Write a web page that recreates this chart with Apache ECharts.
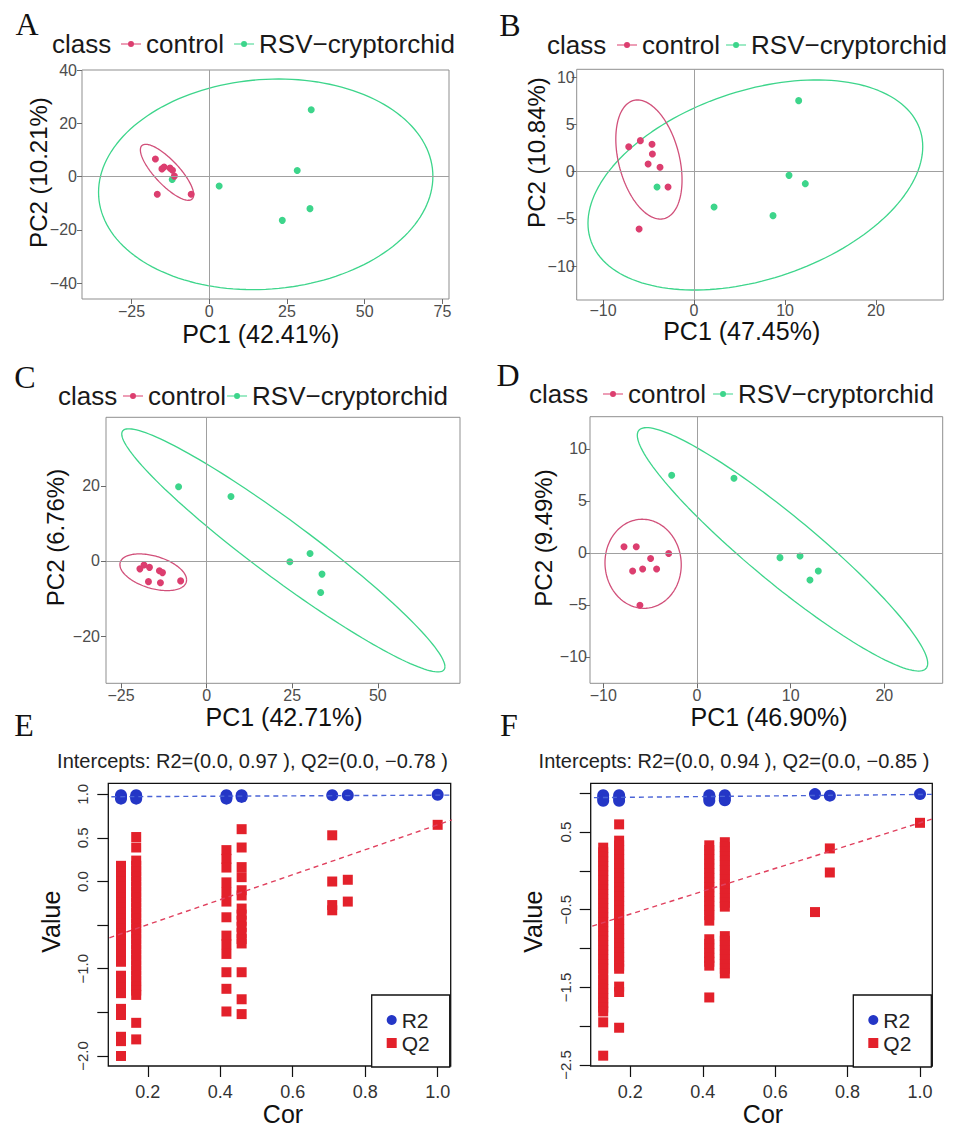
<!DOCTYPE html>
<html><head><meta charset="utf-8">
<script src="https://cdn.jsdelivr.net/npm/echarts@6/dist/echarts.min.js"></script>
<style>html,body{margin:0;padding:0;background:#fff}#c{width:955px;height:1129px}</style>
</head><body><div id="c"></div>
<script>
// ---------------- DATA ----------------
const groupNames = ['control', 'RSV\u2212cryptorchid'];

// PCA panels: [PC1, PC2]
const A_control = [[-17.3,6.6],[-15.2,2.9],[-14.5,3.6],[-12.6,3.2],[-11.8,2.4],[-11.2,0.2],[-16.7,-6.6],[-5.8,-6.6]];
const A_rsv     = [[-11.9,-1.1],[3.2,-3.5],[28.3,2.3],[32.8,25.1],[32.4,-12.0],[23.5,-16.4]];
const B_control = [[-7.18,2.65],[-5.9,3.29],[-4.62,2.9],[-4.58,1.87],[-5.05,0.81],[-3.74,0.46],[-2.86,-1.63],[-6.04,-6.08]];
const B_rsv     = [[-4.07,-1.63],[2.2,-3.75],[10.44,-0.39],[12.23,-1.27],[8.68,-4.66],[11.5,7.53]];
const C_control = [[-19.5,-2.1],[-18.3,-1.05],[-16.7,-1.7],[-13.8,-2.6],[-12.9,-3.1],[-17.0,-5.5],[-13.5,-5.8],[-7.6,-5.3]];
const C_rsv     = [[-8.2,19.8],[7.1,17.2],[24.3,-0.2],[30.2,2.0],[33.7,-3.5],[33.3,-8.4]];
const D_control = [[-7.79,0.6],[-6.48,0.6],[-4.95,-0.54],[-3.02,-0.06],[-6.87,-1.73],[-5.8,-1.54],[-4.31,-1.54],[-6.09,-5.03]];
const D_rsv     = [[-2.7,7.47],[3.95,7.18],[8.86,-0.45],[11.0,-0.29],[12.95,-1.73],[12.06,-2.6]];

// confidence ellipses: [centerX, centerY, halfWidthX, yOffsetAtRightmost, halfHeightY]
const A_ctrlEllipse = [-13.56, 1.63, 8.57, -8.4, 10.5];
const A_rsvEllipse  = [18.17, -2.88, 53.75, 3.0, 39.5];
const B_ctrlEllipse = [-4.96, 1.29, 3.64, -2.17, 6.31];
const B_rsvEllipse  = [6.74, -1.41, 18.4, 4.06, 11.13];
const C_ctrlEllipse = [-15.6, -3.0, 9.74, -2.04, 4.89];
const C_rsvEllipse  = [22.4, 2.84, 47.2, -31.0, 32.4];
const D_ctrlEllipse = [-5.75, -1.04, 4.07, -0.1, 4.28];
const D_rsvEllipse  = [9.13, 0.35, 15.5, -10.96, 11.7];

// axis tick labels
const A_xTicks = [-25, 0, 25, 50, 75], A_yTicks = [-40, -20, 0, 20, 40];
const B_xTicks = [-10, 0, 10, 20],     B_yTicks = [-10, -5, 0, 5, 10];
const C_xTicks = [-25, 0, 25, 50],     C_yTicks = [-20, 0, 20];
const D_xTicks = [-10, 0, 10, 20],     D_yTicks = [-10, -5, 0, 5, 10];
const pcaTitles = ['PC1 (42.41%)','PC2 (10.21%)','PC1 (47.45%)','PC2 (10.84%)','PC1 (42.71%)','PC2 (6.76%)','PC1 (46.90%)','PC2 (9.49%)'];

// permutation tests (E, F)
const E_cor = [0.126, 0.168, 0.417, 0.459, 0.709, 0.752, 1.0];
const E_R2 = [[0.99,0.97,0.95],[0.99,0.97,0.95],[0.99,0.97,0.95],[0.99,0.97],[0.99],[0.99],[0.995]];
const E_Q2 = [
  [0.18,0.12,0.06,0.00,-0.06,-0.12,-0.18,-0.24,-0.30,-0.36,-0.42,-0.48,-0.54,-0.60,-0.66,-0.72,-0.78,-0.84,-0.92,-1.08,-1.14,-1.21,-1.28,-1.46,-1.53,-1.78,-1.83,-2.00],
  [0.51,0.39,0.24,0.18,0.12,0.06,0.00,-0.06,-0.12,-0.18,-0.24,-0.30,-0.36,-0.42,-0.48,-0.54,-0.60,-0.66,-0.72,-0.78,-0.84,-0.90,-0.96,-1.02,-1.08,-1.14,-1.20,-1.25,-1.30,-1.62,-1.81],
  [0.36,0.26,0.16,-0.01,-0.12,-0.23,-0.41,-0.62,-0.72,-0.83,-1.04,-1.23,-1.49],
  [0.60,0.39,0.165,0.05,-0.10,-0.16,-0.31,-0.38,-0.45,-0.52,-0.59,-0.66,-0.71,-1.04,-1.35,-1.52],
  [0.53,0.00,-0.27,-0.33],
  [0.02,-0.23],
  [0.65]
];
const E_intercepts = [0.97, -0.78];   // R2, Q2 at Cor = 0
const E_original   = [0.99, 0.65];    // R2, Q2 at Cor = 1

const F_cor = [0.125, 0.169, 0.418, 0.461, 0.71, 0.751, 1.0];
const F_R2 = [[0.975,0.94,0.905],[0.975,0.94,0.905],[0.975,0.94,0.905],[0.975,0.94,0.91],[0.99],[0.97],[0.99]];
const F_Q2 = [
  [0.30,0.24,0.18,0.12,0.06,0.00,-0.06,-0.12,-0.18,-0.24,-0.30,-0.36,-0.42,-0.48,-0.54,-0.60,-0.66,-0.72,-0.78,-0.84,-0.90,-0.96,-1.02,-1.08,-1.14,-1.20,-1.26,-1.33,-1.40,-1.46,-1.52,-1.58,-1.64,-1.70,-1.76,-1.81,-1.95,-2.38],
  [0.60,0.39,0.33,0.27,0.21,0.15,0.09,0.03,-0.03,-0.09,-0.15,-0.21,-0.27,-0.33,-0.39,-0.45,-0.51,-0.57,-0.63,-0.69,-0.75,-0.81,-0.87,-0.93,-0.99,-1.05,-1.11,-1.17,-1.22,-1.26,-1.49,-1.56,-2.02],
  [0.33,0.27,0.21,0.15,0.09,0.03,-0.03,-0.09,-0.15,-0.21,-0.27,-0.33,-0.39,-0.45,-0.51,-0.57,-0.64,-0.88,-0.94,-1.00,-1.06,-1.12,-1.17,-1.22,-1.63],
  [0.37,0.31,0.25,0.19,0.13,0.07,0.01,-0.05,-0.11,-0.17,-0.23,-0.29,-0.35,-0.41,-0.46,-0.84,-0.90,-0.96,-1.02,-1.08,-1.14,-1.20,-1.26,-1.32],
  [-0.53],
  [0.29,-0.02],
  [0.62]
];
const F_intercepts = [0.94, -0.85];
const F_original   = [0.985, 0.62];

const E_xTicks = [0.2, 0.4, 0.6, 0.8, 1.0];
const E_yTicks = [-2, -1.5, -1, -0.5, 0, 0.5, 1];
const E_yLabels = [-2, -1, 0, 0.5, 1];
const F_yTicks = [-2.5, -2, -1.5, -1, -0.5, 0, 0.5, 1];
const F_yLabels = [-2.5, -1.5, -0.5, 0.5];
const E_title = 'Intercepts: R2=(0.0, 0.97 ), Q2=(0.0, \u22120.78 )';
const F_title = 'Intercepts: R2=(0.0, 0.94 ), Q2=(0.0, \u22120.85 )';

// ---------------- STYLE / LAYOUT ----------------
const RED = '#dc3e6f', GREEN = '#3dd58b';
const BLUE2 = '#2436c6', RED2 = '#e3212b';
const SANS = 'Liberation Sans, Arial, sans-serif';
const SERIF = 'Liberation Serif, Times New Roman, serif';

const pcaGrids = [
  {left:82, top:70, width:367, height:229},
  {left:576.7, top:69.3, width:366.6, height:230.7},
  {left:106, top:417.3, width:354, height:266},
  {left:590, top:416.7, width:352.7, height:266.6}
];
const pcaRanges = [
  {x:[-40.9,77.1], y:[-45.9,40.0]},
  {x:[-12.9,27.4], y:[-13.6,10.85]},
  {x:[-29.4,74.0], y:[-32.6,38.3]},
  {x:[-11.42,26.23], y:[-12.53,13.1]}
];
const pcaLabelMargins = [[4,5],[2,2],[4,6],[4,3]]; // [x, y]
const permGrids = [
  {left:108.3, top:783.3, width:342.4, height:282.7},
  {left:590.7, top:783.3, width:341.6, height:282.7}
];
const permRanges = [
  {x:[0.091,1.036], y:[-2.115,1.126]},
  {x:[0.0905,1.034], y:[-2.513,1.129]}
];

function ellipse(p){
  const [cx,cy,hw,yr,hh] = p;
  const k = Math.sqrt(hh*hh - yr*yr);
  const pts = [];
  for (let i = 0; i <= 160; i++){
    const t = i/160*2*Math.PI;
    pts.push([cx + hw*Math.cos(t), cy + yr*Math.cos(t) + k*Math.sin(t)]);
  }
  return pts;
}
const minus = v => (v < 0 ? '\u2212' + Math.abs(v) : String(v));
const minus1 = v => (v < 0 ? '\u2212' + Math.abs(v).toFixed(1) : v.toFixed(1));

const grid = [], xAxis = [], yAxis = [], series = [], legend = [], graphic = [];

const pcaData = [[A_control,A_rsv],[B_control,B_rsv],[C_control,C_rsv],[D_control,D_rsv]];
const pcaEll = [[A_ctrlEllipse,A_rsvEllipse],[B_ctrlEllipse,B_rsvEllipse],[C_ctrlEllipse,C_rsvEllipse],[D_ctrlEllipse,D_rsvEllipse]];
const pcaTicks = [[A_xTicks,A_yTicks],[B_xTicks,B_yTicks],[C_xTicks,C_yTicks],[D_xTicks,D_yTicks]];

pcaGrids.forEach((g, i) => {
  grid.push(Object.assign({show:true, borderColor:'#8f8f8f', borderWidth:1, backgroundColor:'#fff'}, g));
  const tickStyle = {show:true, length:5, lineStyle:{color:'#6a6a6a', width:1}};
  xAxis.push({type:'value', gridIndex:i, position:'bottom', min:pcaRanges[i].x[0], max:pcaRanges[i].x[1],
    axisLine:{show:false, onZero:false}, splitLine:{show:false},
    axisTick:Object.assign({customValues:pcaTicks[i][0]}, tickStyle),
    axisLabel:{customValues:pcaTicks[i][0], formatter:minus, fontFamily:SANS, fontSize:16, lineHeight:16, color:'#4d4d4d', margin:pcaLabelMargins[i][0]}});
  yAxis.push({type:'value', gridIndex:i, position:'left', min:pcaRanges[i].y[0], max:pcaRanges[i].y[1],
    axisLine:{show:false, onZero:false}, splitLine:{show:false},
    axisTick:Object.assign({customValues:pcaTicks[i][1]}, tickStyle),
    axisLabel:{customValues:pcaTicks[i][1], formatter:minus, fontFamily:SANS, fontSize:16, color:'#4d4d4d', margin:pcaLabelMargins[i][1]}});
  series.push({type:'line', name:'rsv ellipse '+i, xAxisIndex:i, yAxisIndex:i, data:ellipse(pcaEll[i][1]),
    showSymbol:false, symbol:'none', silent:true, z:2, animation:false,
    lineStyle:{color:GREEN, width:1.3},
    markLine:{silent:true, symbol:['none','none'], label:{show:false}, animation:false,
      lineStyle:{color:'#a0a0a0', width:1, type:'solid'}, data:[{xAxis:0},{yAxis:0}]}});
  series.push({type:'line', name:'control ellipse '+i, xAxisIndex:i, yAxisIndex:i, data:ellipse(pcaEll[i][0]),
    showSymbol:false, symbol:'none', silent:true, z:2, animation:false,
    lineStyle:{color:'#d1507a', width:1.3}});
  series.push({type:'scatter', name:groupNames[0], xAxisIndex:i, yAxisIndex:i, data:pcaData[i][0],
    symbolSize:7, itemStyle:{color:RED, opacity:1}, z:4, animation:false});
  series.push({type:'scatter', name:groupNames[1], xAxisIndex:i, yAxisIndex:i, data:pcaData[i][1],
    symbolSize:7, itemStyle:{color:GREEN, opacity:1}, z:3, animation:false});
});

// PCA legends (ggplot-style top legends)
const legPos = [
  {left:121, cy:44, gap:10, classX:52},
  {left:617, cy:45, gap:6, classX:547},
  {left:123, cy:396, gap:1, classX:58},
  {left:603, cy:394, gap:7, classX:529}
];
legPos.forEach(p => {
  legend.push({data:groupNames, left:p.left, top:p.cy-15, orient:'horizontal', padding:0,
    itemGap:p.gap, itemWidth:20, itemHeight:6, selectedMode:false,
    icon:'path://M0,2.4L20,2.4L20,3.6L0,3.6Z M10,0A3,3 0 1 1 10,6A3,3 0 1 1 10,0Z',
    textStyle:{fontFamily:SANS, fontSize:26, color:'#1a1a1a', lineHeight:30}});
  graphic.push({type:'text', x:p.classX, y:p.cy, silent:true,
    style:{text:'class', font:'26px '+SANS, fill:'#1a1a1a', textAlign:'left', textVerticalAlign:'middle', align:'left', verticalAlign:'middle'}});
});

// permutation panels
const permSets = [
  {cor:E_cor, r2:E_R2, q2:E_Q2, ic:E_intercepts, og:E_original, yT:E_yTicks, yL:E_yLabels},
  {cor:F_cor, r2:F_R2, q2:F_Q2, ic:F_intercepts, og:F_original, yT:F_yTicks, yL:F_yLabels}
];
permSets.forEach((s, j) => {
  const gi = 4 + j;
  grid.push(Object.assign({show:true, borderColor:'#111', borderWidth:1.3, backgroundColor:'#fff'}, permGrids[j]));
  const tickStyle = {show:true, length:11, lineStyle:{color:'#111', width:1.2}};
  xAxis.push({type:'value', gridIndex:gi, position:'bottom', min:permRanges[j].x[0], max:permRanges[j].x[1],
    axisLine:{show:false, onZero:false}, splitLine:{show:false},
    axisTick:Object.assign({customValues:E_xTicks}, tickStyle),
    axisLabel:{customValues:E_xTicks, formatter:minus1, fontFamily:SANS, fontSize:18, lineHeight:18, color:'#333', margin:17}});
  yAxis.push({type:'value', gridIndex:gi, position:'left', min:permRanges[j].y[0], max:permRanges[j].y[1],
    axisLine:{show:false, onZero:false}, splitLine:{show:false},
    axisTick:Object.assign({customValues:s.yT}, tickStyle),
    axisLabel:{customValues:s.yL, formatter:minus1, rotate:90, fontFamily:SANS, fontSize:15, color:'#333', margin:18}});
  const q2pts = [], r2pts = [];
  s.cor.forEach((c, k) => {
    s.q2[k].forEach(v => q2pts.push([c, v]));
    s.r2[k].forEach(v => r2pts.push([c, v]));
  });
  series.push({type:'scatter', name:'Q2', xAxisIndex:gi, yAxisIndex:gi, data:q2pts, symbol:'rect', symbolSize:10,
    itemStyle:{color:RED2, opacity:1}, z:3, animation:false});
  series.push({type:'scatter', name:'R2', xAxisIndex:gi, yAxisIndex:gi, data:r2pts, symbol:'circle', symbolSize:12,
    itemStyle:{color:BLUE2, opacity:1}, z:4, animation:false});
  const lineAt = (a, b, x) => [x, a + (b - a) * x];
  series.push({type:'line', name:'R2 fit', xAxisIndex:gi, yAxisIndex:gi, clip:true, symbol:'none', silent:true, z:5, animation:false,
    data:[lineAt(s.ic[0], s.og[0], 0), lineAt(s.ic[0], s.og[0], 1.1)],
    lineStyle:{color:'#4a63d6', width:1.4, type:[5,4]}});
  series.push({type:'line', name:'Q2 fit', xAxisIndex:gi, yAxisIndex:gi, clip:true, symbol:'none', silent:true, z:5, animation:false,
    data:[lineAt(s.ic[1], s.og[1], 0), lineAt(s.ic[1], s.og[1], 1.1)],
    lineStyle:{color:'#e0405e', width:1.4, type:[5,4]}});
  const g = permGrids[j];
  legend.push({data:[{name:'R2', icon:'circle'},{name:'Q2', icon:'rect'}], orient:'vertical',
    left:g.left + g.width - 79, top:g.top + g.height - 71, padding:[14,20,13,15], itemGap:1,
    itemWidth:10, itemHeight:10, selectedMode:false, backgroundColor:'#fff', borderColor:'#111', borderWidth:1.3,
    textStyle:{fontFamily:SANS, fontSize:21, color:'#222', lineHeight:22}});
});

// free texts: panel letters, axis titles, intercept titles
function txt(text, x, y, font, rot, color){
  graphic.push({type:'text', x:x, y:y, rotation:rot||0, silent:true,
    style:{text:text, font:font, fill:color||'#111', textAlign:'center', textVerticalAlign:'middle', align:'center', verticalAlign:'middle'}});
}
const R90 = Math.PI/2;
txt('A', 27, 24, '32px '+SERIF); txt('B', 510, 25, '32px '+SERIF);
txt('C', 25, 377, '32px '+SERIF); txt('D', 508, 375, '32px '+SERIF);
txt('E', 24, 725, '32px '+SERIF); txt('F', 509, 725, '32px '+SERIF);
txt(pcaTitles[0], 260.7, 334, '25px '+SANS); txt(pcaTitles[1], 38, 172.5, '24px '+SANS, R90);
txt(pcaTitles[2], 741.7, 331, '25px '+SANS);   txt(pcaTitles[3], 536, 152.5, '24px '+SANS, R90);
txt(pcaTitles[4], 284, 716.5, '25px '+SANS);   txt(pcaTitles[5], 55, 537.5, '24px '+SANS, R90);
txt(pcaTitles[6], 769, 716.5, '25px '+SANS);   txt(pcaTitles[7], 543, 538, '24px '+SANS, R90);
txt(E_title, 252.5, 761, '20px '+SANS, 0, '#222'); txt(F_title, 734, 761, '20px '+SANS, 0, '#222');
txt('Value', 51, 921.7, '25px '+SANS, R90); txt('Value', 533, 921.7, '25px '+SANS, R90);
txt('Cor', 283, 1114, '25px '+SANS); txt('Cor', 763, 1114, '25px '+SANS);

const chart = echarts.init(document.getElementById('c'), null, {renderer:'svg'});
chart.setOption({animation:false, backgroundColor:'#fff', grid, xAxis, yAxis, series, legend, graphic});
</script></body></html>
